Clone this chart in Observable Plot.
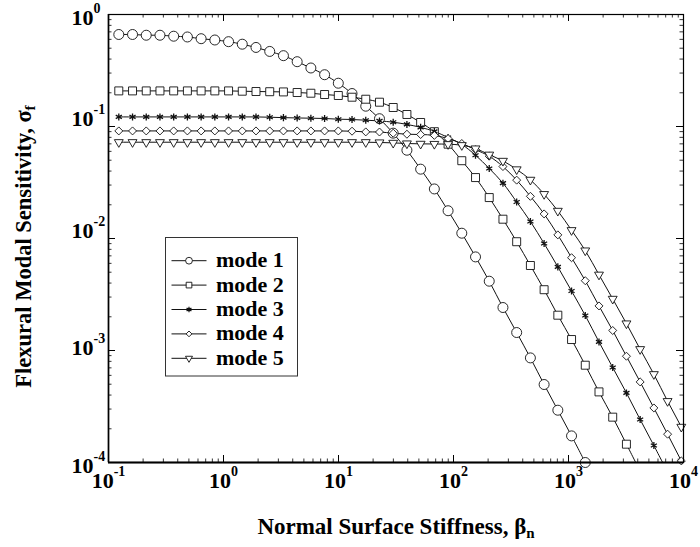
<!DOCTYPE html>
<html><head><meta charset="utf-8">
<script src="https://cdn.jsdelivr.net/npm/d3@7"></script>
<script src="https://cdn.jsdelivr.net/npm/@observablehq/plot@0.6"></script>
<style>html,body{margin:0;padding:0;background:#fff}svg{display:block}</style>
</head><body><div id="chart"></div>
<script>
// Normal surface stiffness sampling grid (beta_n)
const stiffness = [0.1229, 0.1618, 0.2129, 0.2802, 0.3688, 0.4854, 0.6389, 0.8407, 1.1066, 1.4564,
  1.9168, 2.5228, 3.3205, 4.3702, 5.7518, 7.5704, 9.9632, 13.113, 17.258, 22.715,
  29.896, 39.347, 51.786, 68.160, 89.713, 118.07, 155.41, 204.52, 269.15, 354.26,
  466.28, 613.70, 807.66, 1063.0, 1399.1, 1841.5, 2423.6, 3189.8, 4198.1, 5525.4,
  7272.3, 9570.9, 12597];
const mode1 = [0.663, 0.663, 0.653, 0.653, 0.640, 0.630, 0.608, 0.592, 0.572, 0.543,
  0.508, 0.468, 0.429, 0.379, 0.333, 0.290, 0.2435, 0.197, 0.1518, 0.1174,
  0.0872, 0.0614, 0.0416, 0.0277, 0.0177, 0.01115, 0.00685, 0.004157, 0.00242, 0.001447,
  0.000859, 0.000497, 0.000293, 0.0001728, 0.0001];
const mode2 = [0.2079, 0.2079, 0.2079, 0.2079, 0.2079, 0.2079, 0.2079, 0.2079, 0.2079, 0.2066,
  0.2053, 0.2045, 0.2036, 0.2011, 0.1982, 0.1930, 0.1891, 0.1826, 0.1752, 0.1648,
  0.1478, 0.1280, 0.1086, 0.0899, 0.0695, 0.0495, 0.0350, 0.0232, 0.01487, 0.00936,
  0.00574, 0.00349, 0.002066, 0.001253, 0.000739, 0.000427, 0.000254, 0.0001457, 0.0000836];
const mode3 = [0.1218, 0.1218, 0.1218, 0.1218, 0.1218, 0.1218, 0.1218, 0.1218, 0.1218, 0.1218,
  0.1218, 0.1210, 0.1200, 0.1192, 0.1186, 0.1179, 0.1162, 0.1155, 0.1138, 0.1122,
  0.1092, 0.1044, 0.0982, 0.0904, 0.0797, 0.0691, 0.0554, 0.0422, 0.0312, 0.0212,
  0.01418, 0.00902, 0.00558, 0.00340, 0.002054, 0.001193, 0.000705, 0.000418, 0.000242, 0.0001418,
  0.0000819];
const mode4 = [0.0913, 0.0913, 0.0913, 0.0913, 0.0913, 0.0913, 0.0913, 0.0913, 0.0913, 0.0913,
  0.0913, 0.0913, 0.0913, 0.0913, 0.0913, 0.0913, 0.0913, 0.0908, 0.0895, 0.0893,
  0.0871, 0.0853, 0.0848, 0.0833, 0.0780, 0.0705, 0.0621, 0.0543, 0.0439, 0.0332,
  0.0238, 0.01658, 0.01077, 0.00674, 0.00420, 0.00250, 0.001509, 0.000889, 0.000524, 0.000307,
  0.000179, 0.0001033, 0.0000602];
const mode5 = [0.0724, 0.0724, 0.0724, 0.0724, 0.0724, 0.0724, 0.0724, 0.0724, 0.0724, 0.0724,
  0.0724, 0.0724, 0.0724, 0.0724, 0.0724, 0.0724, 0.0724, 0.0724, 0.0724, 0.0720,
  0.0714, 0.0705, 0.0700, 0.0698, 0.0695, 0.0681, 0.0636, 0.0560, 0.0493, 0.0414,
  0.0334, 0.0249, 0.01764, 0.01186, 0.00781, 0.00475, 0.00289, 0.001742, 0.001027, 0.000614,
  0.000353, 0.000208, 0.0001236];
const modeNames = ["mode 1", "mode 2", "mode 3", "mode 4", "mode 5"];
const modeSeries = [mode1, mode2, mode3, mode4, mode5];
const xExponents = [-1, 0, 1, 2, 3, 4];
const yExponents = [0, -1, -2, -3, -4];

// down-pointing triangle symbol
const triangleDown = {
  draw(ctx, size) {
    const a = Math.sqrt(size * 4 / Math.sqrt(3));
    const h = a * Math.sqrt(3) / 2;
    ctx.moveTo(0, 2 * h / 3);
    ctx.lineTo(a / 2, -h / 3);
    ctx.lineTo(-a / 2, -h / 3);
    ctx.closePath();
  }
};
const symbols = [d3.symbolCircle, d3.symbolSquare, d3.symbolAsterisk, d3.symbolDiamond2, triangleDown];
const symR = [5, 4.5, 3.3, 3.6, 3.3];
const legR = [3.4, 3.2, 2.6, 2.6, 2.6];

const rows = [];
modeSeries.forEach((s, i) => s.forEach((v, k) => rows.push({mode: modeNames[i], x: stiffness[k], y: v})));

const W = 700, H = 547, mL = 108, mR = 17, mT = 14, mB = 85;
const fw = W - mL - mR, fh = H - mT - mB;

const majX = xExponents.map(e => 10 ** e);
const minX = []; for (let e = -1; e < 4; e++) for (let m = 2; m <= 9; m++) minX.push(m * 10 ** e);
const majY = yExponents.map(e => 10 ** e);
const minY = []; for (let e = -4; e < 0; e++) for (let m = 2; m <= 9; m++) minY.push(m * 10 ** e);

const serif = "'Liberation Serif', 'Times New Roman', serif";
const marks = [];
// ticks (inward)
marks.push(Plot.ruleX(majX, {x: d => d, insetTop: fh - 7, stroke: "#000", strokeWidth: 1}));
marks.push(Plot.ruleX(minX, {x: d => d, insetTop: fh - 3.5, stroke: "#000", strokeWidth: 0.8}));
marks.push(Plot.ruleX(majX, {x: d => d, insetBottom: fh - 7, stroke: "#000", strokeWidth: 1}));
marks.push(Plot.ruleX(minX, {x: d => d, insetBottom: fh - 3.5, stroke: "#000", strokeWidth: 0.8}));
marks.push(Plot.ruleY(majY, {y: d => d, insetRight: fw - 7, stroke: "#000", strokeWidth: 1}));
marks.push(Plot.ruleY(minY, {y: d => d, insetRight: fw - 3.5, stroke: "#000", strokeWidth: 0.8}));
marks.push(Plot.ruleY(majY, {y: d => d, insetLeft: fw - 7, stroke: "#000", strokeWidth: 1}));
marks.push(Plot.ruleY(minY, {y: d => d, insetLeft: fw - 3.5, stroke: "#000", strokeWidth: 0.8}));
// series
modeNames.forEach((m, i) => {
  const d = rows.filter(r => r.mode === m);
  marks.push(Plot.line(d, {x: "x", y: "y", stroke: "#111", strokeWidth: 1, curve: "catmull-rom", clip: true}));
});
modeNames.forEach((m, i) => {
  const d = rows.filter(r => r.mode === m && r.x <= 1e4 && r.y >= 0.97e-4);
  marks.push(Plot.dot(d, {x: "x", y: "y", symbol: symbols[i], r: symR[i], stroke: "#111",
    fill: i === 2 ? "none" : "white", strokeWidth: i === 2 ? 1.3 : 0.9}));
});
// frame
marks.push(Plot.frame({stroke: "#000", strokeWidth: 1.2}));
marks.push(Plot.ruleY([1e-4], {stroke: "#000", strokeWidth: 2}));
marks.push(Plot.ruleX([0.1], {stroke: "#000", strokeWidth: 1.6}));
// tick labels ("|" marks where the superscript starts)
marks.push(Plot.text(xExponents, {x: d => 10 ** d, frameAnchor: "bottom", dy: 25, lineAnchor: "bottom",
  textAnchor: "middle", text: d => "10|" + d, fontSize: 22, fontWeight: "bold", fill: "#000"}));
const yLabelDy = [10.5, -1, -1, 4, 10];
yExponents.forEach((e, i) => {
  marks.push(Plot.text([e], {y: d => 10 ** d, frameAnchor: "left", dx: -37, dy: yLabelDy[i], lineAnchor: "bottom",
    textAnchor: "start", text: d => "10|" + d, fontSize: 22, fontWeight: "bold", fill: "#000"}));
});
// axis titles ("|" marks where the subscript starts)
marks.push(Plot.text(["Normal Surface Stiffness, β|n"], {frameAnchor: "bottom", dy: 71, lineAnchor: "bottom",
  textAnchor: "middle", text: d => d, fontSize: 23, fontWeight: "bold", fill: "#000"}));
marks.push(Plot.text(["Flexural Modal Sensitivity, σ|f"], {frameAnchor: "left", dx: -85, dy: 8, rotate: -90, lineAnchor: "middle",
  textAnchor: "middle", text: d => d, fontSize: 22.5, fontWeight: "bold", fill: "#000"}));

const svgEl = Plot.plot({
  width: W, height: H, marginLeft: mL, marginRight: mR, marginTop: mT, marginBottom: mB,
  style: {fontFamily: serif, background: "#fff", color: "#000"},
  x: {type: "log", domain: [0.1, 1e4], axis: null},
  y: {type: "log", domain: [1e-4, 1], axis: null},
  marks
});
const svg = d3.select(svgEl);
svg.selectAll("text").each(function () {
  const txt = this.textContent;
  if (!txt.includes("|")) return;
  const [base, s] = txt.split("|");
  const t = d3.select(this);
  t.text(base);
  if (base === "10") t.append("tspan").attr("dy", -12).attr("font-size", 14).text(s);
  else t.append("tspan").attr("dy", 4).attr("font-size", 15).text(s);
});

// legend
const lg = svg.append("g").attr("font-family", serif).attr("text-anchor", "start");
lg.append("rect").attr("x", 165.5).attr("y", 237.5).attr("width", 132).attr("height", 138.5)
  .attr("fill", "#fff").attr("stroke", "#333").attr("stroke-width", 1);
modeNames.forEach((m, i) => {
  const y = 260.7 + 24.4 * i;
  lg.append("line").attr("x1", 171.5).attr("x2", 206.5).attr("y1", y).attr("y2", y)
    .attr("stroke", "#111").attr("stroke-width", 1);
  lg.append("path").attr("transform", `translate(189,${y})`)
    .attr("d", d3.symbol().type(symbols[i]).size(Math.PI * legR[i] ** 2)())
    .attr("fill", i === 2 ? "none" : "#fff").attr("stroke", "#111").attr("stroke-width", i === 2 ? 1.2 : 0.9);
  lg.append("text").attr("x", 216).attr("y", y + 6.5).attr("font-size", 22).attr("font-weight", "bold")
    .attr("fill", "#000").text(m);
});
document.getElementById("chart").appendChild(svgEl);
</script>
</body></html>
